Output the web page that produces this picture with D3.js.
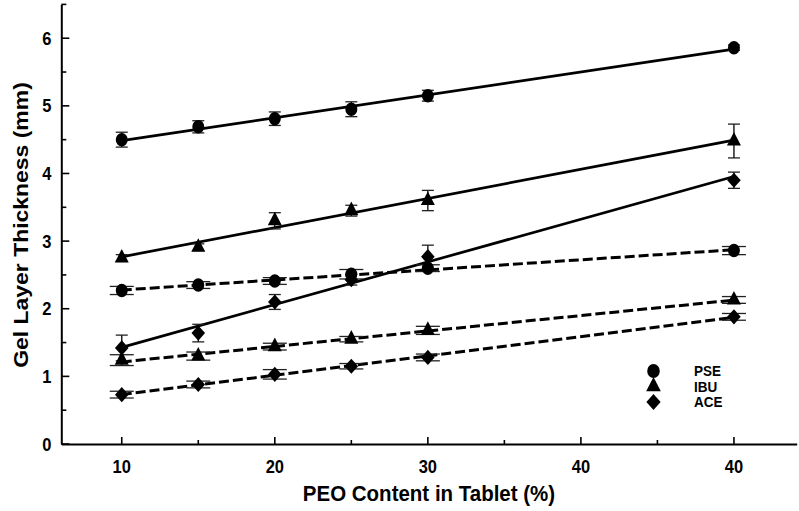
<!DOCTYPE html>
<html>
<head>
<meta charset="utf-8">
<script src="https://cdn.jsdelivr.net/npm/d3@7"></script>
<style>
  html, body { margin: 0; padding: 0; background: #fff; }
  svg { display: block; font-family: "Liberation Sans", Arial, Helvetica, sans-serif; }
</style>
</head>
<body>
<svg id="chart" width="799" height="511"></svg>
<script>
// ---- data ----
// x positions on the plotted axis (the last point sits at the 5th labelled tick)
const peoPositions = [10, 15, 20, 25, 30, 50];
const xTickValues = [10, 20, 30, 40, 50];
const xTickLabels = ["10", "20", "30", "40", "40"];
const yTickValues = [0, 1, 2, 3, 4, 5, 6];

const pseSolid   = [4.50, 4.69, 4.81, 4.95, 5.15, 5.86];
const pseSolidErr = [0.11, 0.09, 0.10, 0.11, 0.08, 0.04];
const ibuSolid   = [2.75, 2.91, 3.30, 3.45, 3.60, 4.48];
const ibuSolidErr = [0.05, 0.05, 0.12, 0.08, 0.15, 0.25];
const aceSolid   = [1.42, 1.64, 2.10, 2.43, 2.77, 3.90];
const aceSolidErr = [0.19, 0.13, 0.11, 0.08, 0.17, 0.12];

const pseDashed  = [2.27, 2.35, 2.41, 2.51, 2.60, 2.86];
const pseDashedErr = [0.06, 0.05, 0.05, 0.07, 0.05, 0.06];
const ibuDashed  = [1.24, 1.30, 1.44, 1.55, 1.68, 2.13];
const ibuDashedErr = [0.08, 0.06, 0.05, 0.04, 0.06, 0.05];
const aceDashed  = [0.73, 0.88, 1.03, 1.15, 1.28, 1.88];
const aceDashedErr = [0.05, 0.05, 0.07, 0.04, 0.05, 0.05];

const legendNames = ["PSE", "IBU", "ACE"];
const xTitle = "PEO Content in Tablet (%)";
const yTitle = "Gel Layer Thickness (mm)";

// ---- setup ----
const series = [
  {name: "PSE", shape: "circle",  vals: pseSolid,  err: pseSolidErr,  dashed: false},
  {name: "IBU", shape: "triangle", vals: ibuSolid, err: ibuSolidErr,  dashed: false},
  {name: "ACE", shape: "diamond", vals: aceSolid,  err: aceSolidErr,  dashed: false},
  {name: "PSE", shape: "circle",  vals: pseDashed, err: pseDashedErr, dashed: true},
  {name: "IBU", shape: "triangle", vals: ibuDashed, err: ibuDashedErr, dashed: true},
  {name: "ACE", shape: "diamond", vals: aceDashed, err: aceDashedErr, dashed: true}
];

const svg = d3.select("#chart");
const VS = 1.12; // vertical stretch of the reference glyphs

const x = d3.scaleLinear().domain([6.05, 54.1]).range([61.3, 796.7]);
const y = d3.scaleLinear().domain([0, 6.5]).range([444, 4.4]);

const symbolTypes = {circle: d3.symbolCircle, triangle: d3.symbolTriangle, diamond: d3.symbolSquare};
const symbolSizes = {circle: 113, triangle: 85, diamond: 92};
function symPath(shape, k = 1) {
  return d3.symbol().type(symbolTypes[shape]).size(symbolSizes[shape] * k)();
}
function symTransform(shape, cx, cy) {
  return shape === "diamond"
    ? `translate(${cx},${cy}) scale(1,${VS}) rotate(45)`
    : `translate(${cx},${cy}) scale(1,${VS})`;
}

// ---- axes ----
const gx = svg.append("g").attr("transform", `translate(0,${y(0)})`);
gx.call(d3.axisBottom(x).tickValues(d3.range(10, 51, 5)).tickSize(0).tickFormat(""));
gx.select(".domain").attr("stroke", "#000").attr("stroke-width", 2);
gx.selectAll(".tick").remove();
// ticks (inward)
d3.range(10, 51, 5).forEach(v => {
  const major = xTickValues.includes(v);
  gx.append("line").attr("x1", x(v)).attr("x2", x(v)).attr("y1", 0).attr("y2", major ? -7 : -4)
    .attr("stroke", "#000").attr("stroke-width", 1.6);
});
xTickValues.forEach((v, i) => {
  svg.append("text")
    .attr("transform", `translate(${x(v)},${y(0) + 29}) scale(1,${VS})`)
    .attr("text-anchor", "middle").attr("font-weight", "bold").attr("font-size", 16.5)
    .text(xTickLabels[i]);
});

const gy = svg.append("g").attr("transform", `translate(${x.range()[0]},0)`);
gy.call(d3.axisLeft(y).tickValues([]).tickSize(0));
gy.select(".domain").attr("stroke", "#000").attr("stroke-width", 2);
d3.range(0, 6.51, 0.5).forEach(v => {
  const major = Number.isInteger(v);
  gy.append("line").attr("x1", 0).attr("x2", major ? 8 : 5).attr("y1", y(v)).attr("y2", y(v))
    .attr("stroke", "#000").attr("stroke-width", 1.6);
});
yTickValues.forEach(v => {
  svg.append("text")
    .attr("transform", `translate(${x.range()[0] - 10},${y(v) + 6.5}) scale(1,${VS})`)
    .attr("text-anchor", "end").attr("font-weight", "bold").attr("font-size", 16.5)
    .text(v);
});

// axis titles
svg.append("text")
  .attr("transform", `translate(429,${501}) scale(1,${VS})`)
  .attr("text-anchor", "middle").attr("font-weight", "bold").attr("font-size", 20.5)
  .text(xTitle);
svg.append("text")
  .attr("transform", `translate(28,225) scale(1,${VS}) rotate(-90)`)
  .attr("text-anchor", "middle").attr("font-weight", "bold").attr("font-size", 20.5)
  .text(yTitle);

// ---- regression lines ----
function fit(xs, ys) {
  const mx = d3.mean(xs), my = d3.mean(ys);
  const sxy = d3.sum(xs, (v, i) => (v - mx) * (ys[i] - my));
  const sxx = d3.sum(xs, v => (v - mx) ** 2);
  const b = sxy / sxx;
  return v => my + b * (v - mx);
}
const lineG = svg.append("g");
series.forEach(s => {
  const f = fit(peoPositions, s.vals);
  const ends = [peoPositions[0], peoPositions[peoPositions.length - 1]];
  lineG.append("path")
    .attr("d", d3.line().x(d => x(d)).y(d => y(f(d)))(ends))
    .attr("fill", "none").attr("stroke", "#000").attr("stroke-width", s.dashed ? 3 : 2.7)
    .attr("stroke-dasharray", s.dashed ? "10,4" : null);
});

// ---- error bars ----
const errG = svg.append("g");
series.forEach(s => {
  const cap = s.dashed ? 12 : 6;
  s.vals.forEach((v, i) => {
    const cx = x(peoPositions[i]);
    const lo = y(v - s.err[i]), hi = y(v + s.err[i]);
    errG.append("line").attr("x1", cx).attr("x2", cx).attr("y1", lo).attr("y2", hi)
      .attr("stroke", "#000").attr("stroke-width", 1.3);
    [lo, hi].forEach(yy => errG.append("line")
      .attr("x1", cx - cap).attr("x2", cx + cap).attr("y1", yy).attr("y2", yy)
      .attr("stroke", "#222").attr("stroke-width", 1.3));
  });
});

// ---- markers ----
const markG = svg.append("g");
series.forEach(s => {
  markG.selectAll(null).data(s.vals).join("path")
    .attr("d", symPath(s.shape))
    .attr("transform", (d, i) => symTransform(s.shape, x(peoPositions[i]), y(d)))
    .attr("fill", "#000");
});

// ---- legend ----
const legend = svg.append("g");
const legendShapes = ["circle", "triangle", "diamond"];
legendNames.forEach((name, i) => {
  const ly = 371 + i * 15.5;
  legend.append("path").attr("d", symPath(legendShapes[i], 1.1))
    .attr("transform", symTransform(legendShapes[i], 653.5, ly)).attr("fill", "#000");
  legend.append("text")
    .attr("transform", `translate(694,${ly + 5}) scale(1,${VS})`)
    .attr("font-weight", "bold").attr("font-size", 13.5)
    .text(name);
});
</script>
</body>
</html>
